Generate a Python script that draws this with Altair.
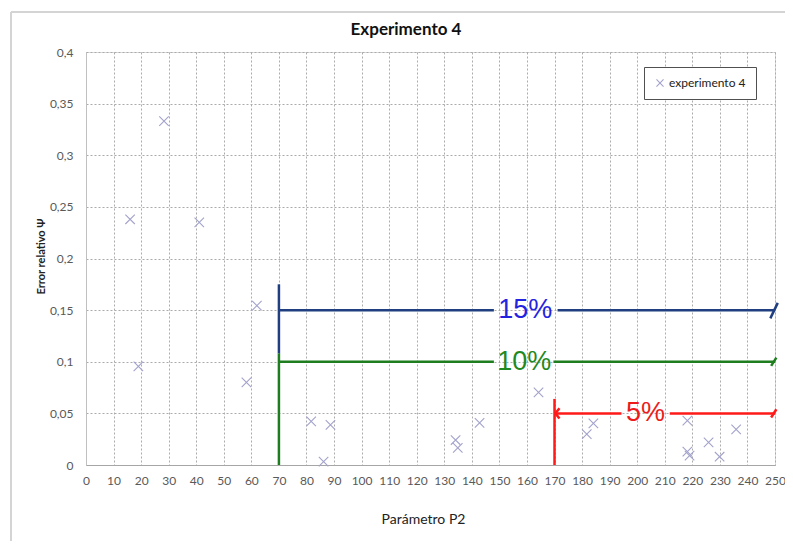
import altair as alt
import pandas as pd

# ---- data ----
p2 = [16.0, 19.0, 28.3, 41.1, 58.2, 62.0, 81.7, 88.7, 86.2, 134.1, 134.9,
      142.8, 164.2, 181.7, 184.1, 218.2, 218.2, 219.0, 225.9, 229.9, 235.9]
err = [0.238, 0.0956, 0.333, 0.235, 0.080, 0.1544, 0.0423, 0.0388, 0.0032, 0.0242, 0.0165,
       0.0407, 0.0704, 0.030, 0.0403, 0.043, 0.0129, 0.009, 0.0219, 0.008, 0.0345]
series_name = "experimento 4"
chart_title = "Experimento 4"

x_ticks = list(range(0, 251, 10))
y_ticks = [0, 0.05, 0.1, 0.15, 0.2, 0.25, 0.3, 0.35, 0.4]

# annotation segments (threshold bands)
seg_x = [70, 70, 171.1, 70, 70, 169.6, 170, 170, 211.8, 248.3, 248.6, 248.6, 171.8, 171.8]
seg_x2 = [70, 148, 250, 70, 148, 250, 170, 194.3, 250, 251.0, 250.5, 250.5, 170.3, 170.3]
seg_y = [0.108, 0.15, 0.15, 0.0, 0.1, 0.1, 0.0, 0.05, 0.05, 0.142, 0.096, 0.046, 0.055, 0.045]
seg_y2 = [0.175, 0.15, 0.15, 0.108, 0.1, 0.1, 0.064, 0.05, 0.05, 0.157, 0.104, 0.054, 0.05, 0.05]
seg_col = ["#1f3f80", "#1f3f80", "#1f3f80", "#1e7d1e", "#1e7d1e", "#1e7d1e",
           "#ff1a1a", "#ff1a1a", "#ff1a1a", "#1f3f80", "#1e7d1e", "#ff1a1a", "#ff1a1a", "#ff1a1a"]

lab_text = ["15%", "10%", "5%"]
lab_x = [159.4, 159.0, 203.0]
lab_y = [0.15, 0.1, 0.05]
lab_col = ["#2424e0", "#1f8a1f", "#ec1c1c"]

pts = pd.DataFrame({"p2": p2, "err": err, "serie": [series_name] * len(p2)})
segs = pd.DataFrame({"x": seg_x, "x2": seg_x2, "y": seg_y, "y2": seg_y2, "c": seg_col})
labs = pd.DataFrame({"t": lab_text, "x": lab_x, "y": lab_y, "c": lab_col})
ttl = pd.DataFrame({"t": [chart_title]})

FONT = "Lato"
XSHAPE = "M-1,-1L1,1M-1,1L1,-1"
PT_COLOR = "#a2a2cc"

W = 689
H = 413

xscale = alt.Scale(domain=[0, 250], nice=False, zero=False)
yscale = alt.Scale(domain=[0, 0.4], nice=False)

xaxis = alt.Axis(values=x_ticks, title="Parámetro P2", grid=True, gridDash=[2, 2],
                 gridColor="#ababab", tickSize=0, labelPadding=10, labelFontSize=12,
                 labelColor="#595959", labelFont=FONT, domainColor="#a6a6a6",
                 labelOverlap=False, labelFlush=False,
                 titleFont=FONT, titleFontSize=14, titleFontWeight="normal",
                 titleColor="#222222", titleX=337, titleY=54, titleBaseline="middle",
                 titleAlign="center")
yaxis = alt.Axis(values=y_ticks, title="Error relativo Ψ", grid=True, gridDash=[2, 2],
                 gridColor="#ababab", tickSize=0, labelPadding=13, labelFontSize=12,
                 labelColor="#595959", labelFont=FONT, domainColor="#c0c0c0",
                 labelOverlap=False, labelFlush=False,
                 labelExpr="replace(format(datum.value, '.2~f'), '.', ',')",
                 titleFont=FONT, titleFontSize=11, titleFontWeight="bold",
                 titleColor="#222222", titleAngle=270, titleX=-45, titleY=204,
                 titleAlign="center", titleBaseline="middle")

points = alt.Chart(pts).mark_point(shape=XSHAPE, size=90, filled=False, strokeWidth=1.1,
                                   opacity=1).encode(
    x=alt.X("p2:Q", scale=xscale, axis=xaxis),
    y=alt.Y("err:Q", scale=yscale, axis=yaxis),
    color=alt.Color("serie:N", scale=alt.Scale(range=[PT_COLOR]),
                    legend=alt.Legend(title=None, orient="none", legendX=558, legendY=15,
                                      padding=10, strokeColor="#505050", fillColor="white",
                                      symbolType=XSHAPE, symbolSize=50, symbolStrokeWidth=1.1,
                                      labelFont=FONT, labelFontSize=12, labelColor="#222222",
                                      symbolOffset=0, labelOffset=3)),
)

lines = alt.Chart(segs).mark_rule(strokeWidth=2.5).encode(
    x=alt.X("x:Q", scale=xscale, axis=xaxis), x2="x2:Q",
    y=alt.Y("y:Q", scale=yscale, axis=yaxis), y2="y2:Q",
    color=alt.Color("c:N", scale=None),
)

texts = alt.Chart(labs).mark_text(font="Liberation Sans", fontSize=27, align="center",
                                  baseline="middle").encode(
    x=alt.X("x:Q", scale=xscale, axis=xaxis),
    y=alt.Y("y:Q", scale=yscale, axis=yaxis),
    text="t:N",
    color=alt.Color("c:N", scale=None),
)

title_mark = alt.Chart(ttl).mark_text(font=FONT, fontSize=17, fontWeight="bold",
                                      color="#111111", align="center",
                                      baseline="middle").encode(
    x=alt.value(320), y=alt.value(-22), text="t:N")

border_left = alt.Chart(pts).mark_rule(color="#d4d4d4", strokeWidth=2).encode(
    x=alt.value(-75), y=alt.value(-40), y2=alt.value(600))
border_top = alt.Chart(pts).mark_rule(color="#d4d4d4", strokeWidth=2).encode(
    x=alt.value(-75), x2=alt.value(800), y=alt.value(-40))

chart = alt.layer(border_left, border_top, points, lines, texts, title_mark).properties(
    width=W, height=H,
    autosize=alt.AutoSizeParams(type="none"),
    padding={"left": 78, "top": 44, "right": 10, "bottom": 76},
).configure_view(stroke=None).configure(background="white")

chart.save("out.html", embed_options={"renderer": "svg", "actions": False})
